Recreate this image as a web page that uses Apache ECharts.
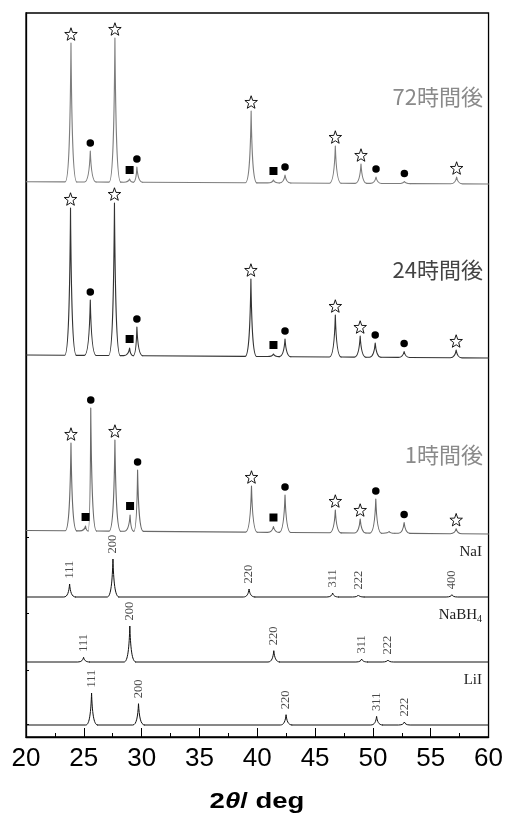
<!DOCTYPE html>
<html><head><meta charset="utf-8">
<script src="https://cdn.jsdelivr.net/npm/echarts@6/dist/echarts.min.js"></script>
<style>html,body{margin:0;padding:0;background:#fff}#c{width:506px;height:814px}</style>
</head><body><div id="c"></div>
<script>
// ---- x axis ----
const xMin = 20, xMax = 60, xStep = 5;
// ---- stacked intensity axis (arb. units) ----
const yMax = 724;
const leftTicks = [13, 67, 124, 200];

// baseline level of each pattern on the stacked axis, and background rise at 2θ = 20
const offsets   = [553, 379, 203, 140, 75, 12];
const baseStart = [2.3, 3.0, 3.5, 0, 0, 0];

// ---- 72 h ----
const pos72  = [23.89, 25.56, 27.69, 28.96, 29.59, 39.47, 41.4, 42.4, 46.75, 48.97, 50.27, 52.72, 57.24];
const int72  = [141, 33, 146, 5, 17, 73, 4, 9, 38, 20, 7, 2.5, 7];
const mark72 = ['star','dot','star','sq','dot','star','sq','dot','star','star','dot','dot','star'];
// ---- 24 h ----
const pos24  = [23.85, 25.56, 27.65, 28.96, 29.59, 39.45, 41.4, 42.4, 46.75, 48.9, 50.2, 52.7, 57.2];
const int24  = [150, 58, 155, 10, 31, 79, 4, 19, 43, 22, 15, 6.5, 8];
const mark24 = ['star','dot','star','sq','dot','star','sq','dot','star','star','dot','dot','star'];
// ---- 1 h ----
const pos1  = [23.89, 25.15, 25.6, 27.69, 29.0, 29.65, 39.5, 41.4, 42.4, 46.75, 48.9, 50.25, 51.4, 52.7, 57.2];
const int1  = [91, 8, 126, 94, 19, 64, 48, 7.5, 39, 24, 15, 35, 2.5, 11.5, 5.3];
const mark1 = ['star','sq','dot','star','sq','dot','star','sq','dot','star','star','dot','','dot','star'];
// ---- reference patterns ----
const posNaI = [23.77, 27.52, 39.29, 46.52, 48.74, 56.83];
const intNaI = [13, 38, 8, 4, 2, 2.3];
const hklNaI = ['111','200','220','311','222','400'];
const posNaBH4 = [24.98, 28.98, 41.43, 49.03, 51.3];
const intNaBH4 = [4.7, 36, 11.3, 3, 2];
const hklNaBH4 = ['111','200','220','311','222'];
const posLiI = [25.67, 29.73, 42.49, 50.32, 52.72];
const intLiI = [32, 21.3, 10.3, 8.6, 3];
const hklLiI = ['111','200','220','311','222'];

const sampleLabels = ['72時間後', '24時間後', '1時間後'];

const STAR = 'path://M0,-10 L2.35,-3.24 L9.51,-3.09 L3.8,1.24 L5.88,8.09 L0,4.5 L-5.88,8.09 L-3.8,1.24 L-9.51,-3.09 L-2.35,-3.24 Z';

function profileSeries(idx, pos, ints, color, lw) {
  const off = offsets[idx], b0 = baseStart[idx];
  const base = x => off + b0 * (xMax - x) / (xMax - xMin);
  const W = 0.5;
  return {
    type: 'custom', coordinateSystem: 'cartesian2d', silent: true, clip: true,
    data: pos.map((p, i) => [p, off + ints[i], i]),
    encode: { x: 0, y: 1 },
    z: 3,
    renderItem(params, api) {
      const i = api.value(2);
      const p = pos[i];
      const prev = i > 0 ? pos[i - 1] : null;
      const next = i < pos.length - 1 ? pos[i + 1] : null;
      const start = prev === null ? xMin : Math.min(prev + W, (prev + p) / 2);
      const lf = prev === null ? p - W : Math.max(p - W, (prev + p) / 2);
      const rf = next === null ? p + W : Math.min(p + W, (p + next) / 2);
      const S = api.coord([start, base(start)]);
      const L = api.coord([lf, base(lf)]);
      const A = api.coord([p, api.value(1)]);
      const R = api.coord([rf, base(rf)]);
      const dl = A[0] - L[0], dr = R[0] - A[0];
      const hl = L[1] - A[1], hr = R[1] - A[1];
      let d = `M${S[0]},${S[1]} L${L[0]},${L[1]} ` +
        `C${L[0] + 0.65 * dl},${L[1]} ${A[0] - 0.12 * dl},${L[1] - 0.4 * hl} ${A[0]},${A[1]} ` +
        `C${A[0] + 0.12 * dr},${R[1] - 0.4 * hr} ${R[0] - 0.65 * dr},${R[1]} ${R[0]},${R[1]}`;
      if (next === null) {
        const E = api.coord([xMax, base(xMax)]);
        d += ` L${E[0]},${E[1]}`;
      }
      return { type: 'path', shape: { pathData: d },
        style: { stroke: color, lineWidth: lw, fill: null, lineJoin: 'round', lineCap: 'round' } };
    }
  };
}

function markerData(idx, pos, ints, marks, kind) {
  const out = [];
  pos.forEach((p, i) => { if (marks[i] === kind) out.push([p, offsets[idx] + ints[i]]); });
  return out;
}
function allMarkers(kind) {
  return [].concat(
    markerData(0, pos72, int72, mark72, kind),
    markerData(1, pos24, int24, mark24, kind),
    markerData(2, pos1, int1, mark1, kind));
}
function hklData(idx, pos, ints, hkl) {
  return pos.map((p, i) => ({ name: hkl[i], value: [p, offsets[idx] + ints[i]] }));
}

const chart = echarts.init(document.getElementById('c'), null, { renderer: 'canvas' });
chart.setOption({
  animation: false,
  backgroundColor: '#fff',
  grid: { left: 26, right: 17, top: 13, bottom: 77, show: true, borderColor: '#000', borderWidth: 1.3, backgroundColor: 'transparent' },
  xAxis: {
    type: 'value', min: xMin, max: xMax, interval: xStep,
    axisLine: { show: true, lineStyle: { color: '#000', width: 1.3 } },
    axisTick: { show: true, inside: true, length: 9, lineStyle: { color: '#000', width: 1 } },
    minorTick: { show: true, splitNumber: 2, length: 4, lineStyle: { color: '#000', width: 1 } },
    splitLine: { show: false },
    axisLabel: { fontFamily: 'Liberation Sans, Arial, sans-serif', fontSize: 26, color: '#000', margin: 9, showMinLabel: true, showMaxLabel: true }
  },
  yAxis: {
    type: 'value', min: 0, max: yMax,
    axisLine: { show: true, lineStyle: { color: '#000', width: 1.3 } },
    axisTick: { show: true, inside: true, length: 3, customValues: leftTicks, lineStyle: { color: '#000' } },
    axisLabel: { show: false },
    splitLine: { show: false }
  },
  series: [
    profileSeries(0, pos72, int72, '#7d7d7d', 1.1),
    profileSeries(1, pos24, int24, '#333333', 1.1),
    profileSeries(2, pos1, int1, '#6a6a6a', 1.1),
    profileSeries(3, posNaI, intNaI, '#111111', 1),
    profileSeries(4, posNaBH4, intNaBH4, '#111111', 1),
    profileSeries(5, posLiI, intLiI, '#111111', 1),
    { type: 'scatter', silent: true, z: 5, data: allMarkers('star'), symbol: STAR, symbolSize: 12.5, symbolOffset: [0, -9],
      itemStyle: { color: '#fff', borderColor: '#000', borderWidth: 0.9, opacity: 1 } },
    { type: 'scatter', silent: true, z: 5, data: allMarkers('dot'), symbol: 'circle', symbolSize: 7.5, symbolOffset: [0, -8],
      itemStyle: { color: '#000', opacity: 1 } },
    { type: 'scatter', silent: true, z: 5, data: allMarkers('sq'), symbol: 'rect', symbolSize: 8, symbolOffset: [0, -9],
      itemStyle: { color: '#000', opacity: 1 } },
    { type: 'scatter', silent: true, z: 5, symbolSize: 1, itemStyle: { color: 'rgba(0,0,0,0)' },
      data: [].concat(hklData(3, posNaI, intNaI, hklNaI), hklData(4, posNaBH4, intNaBH4, hklNaBH4), hklData(5, posLiI, intLiI, hklLiI)),
      label: { show: true, formatter: '{b}', position: 'top', distance: 5, rotate: 90, align: 'left', verticalAlign: 'middle',
        fontFamily: 'Liberation Serif, Times New Roman, serif', fontSize: 12.5, color: '#1a1a1a' } }
  ],
  graphic: [
    { type: 'text', x: 483, y: 97, style: { text: sampleLabels[0], align: 'right', verticalAlign: 'middle', font: '22px "Noto Sans CJK JP"', fill: '#8a8a8a' } },
    { type: 'text', x: 483, y: 270, style: { text: sampleLabels[1], align: 'right', verticalAlign: 'middle', font: '22px "Noto Sans CJK JP"', fill: '#444' } },
    { type: 'text', x: 483, y: 455, style: { text: sampleLabels[2], align: 'right', verticalAlign: 'middle', font: '22px "Noto Sans CJK JP"', fill: '#8a8a8a' } },
    { type: 'text', x: 482, y: 552, style: { text: 'NaI', align: 'right', verticalAlign: 'middle', font: '15px "Liberation Serif"', fill: '#222' } },
    { type: 'text', x: 477, y: 615, style: { text: 'NaBH', align: 'right', verticalAlign: 'middle', font: '15px "Liberation Serif"', fill: '#222' } },
    { type: 'text', x: 477, y: 619, style: { text: '4', align: 'left', verticalAlign: 'middle', font: '10px "Liberation Serif"', fill: '#222' } },
    { type: 'text', x: 482, y: 680, style: { text: 'LiI', align: 'right', verticalAlign: 'middle', font: '15px "Liberation Serif"', fill: '#222' } },
    { type: 'text', x: 257, y: 802, scaleX: 1.25,
      style: { text: '{a|2}{b|θ}{a|/ deg}', align: 'center', verticalAlign: 'middle',
        rich: { a: { fontFamily: 'Liberation Sans', fontWeight: 'bold', fontSize: 22, fill: '#000' },
                b: { fontFamily: 'Liberation Sans', fontWeight: 'bold', fontStyle: 'italic', fontSize: 22, fill: '#000' } } } }
  ]
});
</script>
</body></html>
